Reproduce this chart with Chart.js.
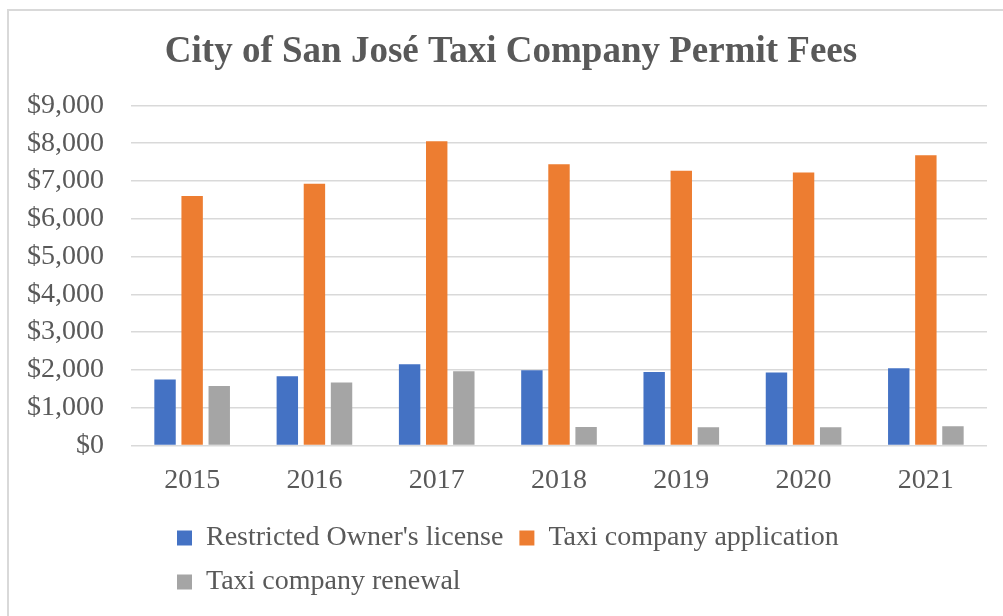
<!DOCTYPE html>
<html>
<head>
<meta charset="utf-8">
<script src="https://cdn.jsdelivr.net/npm/chart.js@4"></script>
<style>
  html, body { margin: 0; padding: 0; background: #fff; overflow: hidden; }
  #frame { position: absolute; left: 7px; top: 9px; width: 1100px; height: 700px;
           border-left: 2px solid #d9d9d9; border-top: 2px solid #d9d9d9; }
  #feesChart { position: absolute; left: 0; top: 0; }
</style>
</head>
<body>
<div id="frame"></div>
<canvas id="feesChart" width="1003" height="616"></canvas>
<script>
// Permit fees by year
const years = ['2015', '2016', '2017', '2018', '2019', '2020', '2021'];
const ownerLicense = [1745, 1830, 2150, 1990, 1940, 1930, 2040];
const companyApplication = [6600, 6925, 8050, 7445, 7270, 7225, 7680];
const companyRenewal = [1575, 1665, 1965, 490, 480, 480, 510];
const seriesNames = ["Restricted Owner's license", 'Taxi company application', 'Taxi company renewal'];

const serif = "'Liberation Serif', 'Times New Roman', serif";
const textGrey = '#595959';

// put title and legend rows where Excel puts them
const boxSpots = {
    id: 'boxSpots',
    afterLayout(chart) {
        const lg = chart.legend;
        lg.left = 161;
        lg.right = 880;
        lg.top = 508;
        lg.bottom = 616;
        lg.height = lg.bottom - lg.top;
        const tb = chart.titleBlock;
        tb.left = 35;
        tb.right = 987;
    }
};

const ctx = document.getElementById('feesChart').getContext('2d');
const feesChart = new Chart(ctx, {
    type: 'bar',
    data: {
        labels: years,
        datasets: [
            { label: seriesNames[0], data: ownerLicense, backgroundColor: '#4472C4' },
            { label: seriesNames[1], data: companyApplication, backgroundColor: '#ED7D31' },
            { label: seriesNames[2], data: companyRenewal, backgroundColor: '#A5A5A5' }
        ]
    },
    options: {
        responsive: false,
        animation: false,
        devicePixelRatio: 1,
        barPercentage: 0.79,
        categoryPercentage: 0.665,
        layout: { padding: { top: 0, right: 16, bottom: 3, left: 0 } },
        plugins: {
            title: {
                display: true,
                text: 'City of San José Taxi Company Permit Fees',
                color: textGrey,
                font: { family: serif, size: 37, weight: 'bold' },
                padding: { top: 30, bottom: 31 }
            },
            legend: {
                position: 'bottom',
                align: 'start',
                labels: {
                    color: textGrey,
                    font: { family: serif, size: 28 },
                    boxWidth: 15,
                    boxHeight: 15,
                    padding: 16
                }
            },
            tooltip: { enabled: false }
        },
        scales: {
            x: {
                grid: { display: false, drawTicks: false },
                border: { display: false },
                ticks: { color: textGrey, font: { family: serif, size: 28 }, padding: 18 }
            },
            y: {
                min: 0,
                max: 9000,
                afterFit: s => { s.width = 131; },
                grid: { color: '#d9d9d9', lineWidth: 1.5, drawTicks: false },
                border: { display: false },
                ticks: {
                    stepSize: 1000,
                    autoSkip: false,
                    padding: 27,
                    color: textGrey,
                    font: { family: serif, size: 28 },
                    callback: v => '$' + v.toLocaleString('en-US')
                }
            }
        }
    },
    plugins: [boxSpots]
});
</script>
</body>
</html>
